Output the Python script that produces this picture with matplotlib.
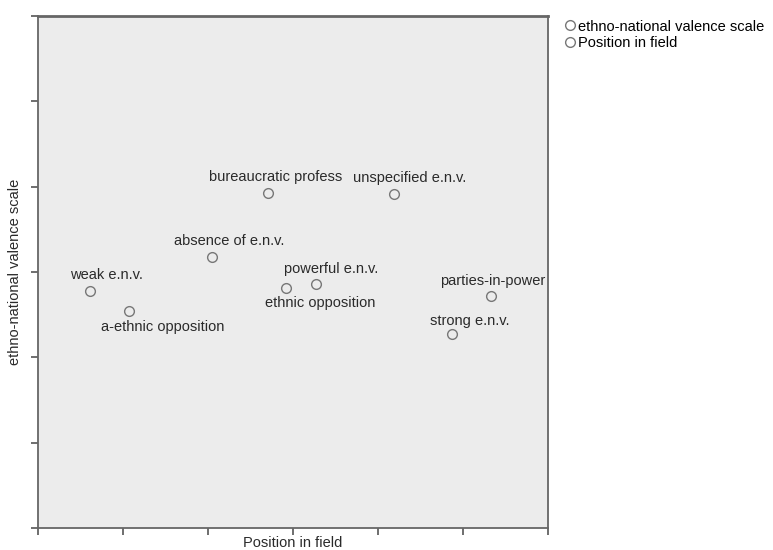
import numpy as np
import matplotlib.pyplot as plt

plt.rcParams['font.family'] = ['Liberation Sans', 'DejaVu Sans']

# groups plotted by position in field (x) and ethno-national valence (y)
labels = ['weak e.n.v.', 'a-ethnic opposition', 'absence of e.n.v.',
          'bureaucratic profess', 'ethnic opposition', 'powerful e.n.v.',
          'unspecified e.n.v.', 'strong e.n.v.', 'parties-in-power']
position = [0.61, 1.07, 2.05, 2.71, 2.92, 3.27, 4.19, 4.87, 5.33]
valence = [2.78, 2.54, 3.18, 3.93, 2.81, 2.86, 3.91, 2.27, 2.72]

# label offsets in points (dx, dy)
offsets = [(12, 11.5), (24.5, -11.5), (12, 11.5), (5, 11.5), (24.5, -11),
           (11, 11), (11.5, 11.5), (13, 9.5), (1.5, 11)]

FS = 10.5

fig = plt.figure(figsize=(7.73, 5.5), dpi=100)
ax = fig.add_axes([0.049, 0.04, 0.66, 0.931])
ax.set_facecolor('#ececec')

ax.plot(position, valence, 'o', ls='none', ms=7, mfc='none', mec='#777777',
        mew=1.0, label='ethno-national valence scale')
ax.plot([], [], 'o', ls='none', ms=7, mfc='none', mec='#777777', mew=1.0,
        label='Position in field')

for lab, x, y, (dx, dy) in zip(labels, position, valence, offsets):
    ax.annotate(lab, (x, y), xytext=(dx, dy), textcoords='offset points',
                ha='center', va='center', fontsize=FS, color='#2a2a2a')

ax.set_xlim(0, 6)
ax.set_ylim(0, 6)
ax.set_xticks(np.arange(0, 7))
ax.set_yticks(np.arange(0, 7))
ax.set_xticklabels([])
ax.set_yticklabels([])
ax.tick_params(direction='out', length=5, width=1.2, color='#555555')
for s in ax.spines.values():
    s.set_color('#666666')
    s.set_linewidth(1.3)
ax.spines['top'].set_linewidth(2)

ax.set_xlabel('Position in field', fontsize=FS, color='#2a2a2a')
ax.set_ylabel('ethno-national valence scale', fontsize=FS, color='#2a2a2a')
ax.xaxis.set_label_coords(0.5, -0.016)
ax.yaxis.set_label_coords(-0.032, 0.5)

fig.legend(loc='upper left', bbox_to_anchor=(0.719, 0.975), frameon=False,
           fontsize=FS, handletextpad=0.0, handlelength=1.1,
           labelspacing=0.15, borderaxespad=0)

fig.savefig('out.png', dpi=100)
